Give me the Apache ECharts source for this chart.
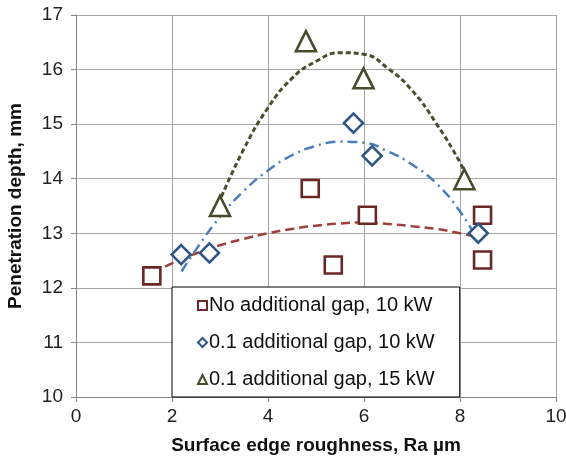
<!DOCTYPE html>
<html>
<head>
<meta charset="utf-8">
<script src="https://cdn.jsdelivr.net/npm/echarts@6/dist/echarts.min.js"></script>
<style>
  html, body { margin: 0; padding: 0; background: #fff; }
  #chart { width: 566px; height: 459px; }
</style>
</head>
<body>
<div id="chart"></div>
<script>
// measured points, [roughness Ra µm, penetration depth mm]
const noGap10 = [[1.58, 12.22], [4.88, 13.82], [6.07, 13.33], [5.36, 12.42], [8.47, 13.33], [8.47, 12.51]];
const gap10 = [[2.19, 12.61], [2.78, 12.64], [5.78, 15.02], [6.17, 14.42], [8.38, 13.0]];
const gap15 = [[3.0, 13.5], [4.79, 16.52], [5.99, 15.84], [8.09, 13.99]];

// trend curves
const trendNoGap10 = [[1.6, 12.27], [2, 12.45], [2.5, 12.63], [3, 12.78], [3.5, 12.9], [4, 13.0], [4.5, 13.08], [5, 13.14], [5.5, 13.18], [6, 13.2], [6.5, 13.17], [7, 13.13], [7.5, 13.08], [8, 13.0], [8.42, 12.91]];
const trendGap10 = [[2.2, 12.3], [2.5, 12.7], [3, 13.3], [3.5, 13.78], [4, 14.15], [4.5, 14.43], [5, 14.6], [5.5, 14.68], [6, 14.66], [6.5, 14.5], [7, 14.26], [7.5, 13.92], [8, 13.4], [8.38, 12.85]];
const trendGap15 = [[3.03, 13.67], [3.5, 14.55], [4, 15.3], [4.5, 15.84], [5, 16.15], [5.5, 16.31], [6, 16.28], [6.5, 16.02], [7, 15.62], [7.5, 15.02], [8, 14.3], [8.1, 14.1]];

const seriesNames = ["No additional gap, 10 kW", "0.1 additional gap, 10 kW", "0.1 additional gap, 15 kW"];

const FONT = "Liberation Sans, Arial, sans-serif";
const chart = echarts.init(document.getElementById("chart"));

function trend(data, color, dash, width) {
  return {
    type: "line",
    data: data,
    smooth: true,
    showSymbol: false,
    silent: true,
    z: 2,
    lineStyle: { color: color, width: width, type: dash },
  };
}

function points(name, data, symbol, size, color) {
  return {
    name: name,
    type: "scatter",
    data: data,
    symbol: symbol,
    symbolSize: size,
    z: 3,
    itemStyle: { color: "#fff", borderColor: color, borderWidth: 2.6, opacity: 1 },
  };
}

chart.setOption({
  animation: false,
  grid: { left: 76, right: 10, top: 15, bottom: 62, outerBoundsMode: "none" },
  xAxis: {
    type: "value",
    min: 0,
    max: 10,
    interval: 2,
    name: "Surface edge roughness, Ra µm",
    nameLocation: "middle",
    nameGap: 39,
    nameTextStyle: { fontFamily: FONT, fontSize: 19, fontWeight: "bold", color: "#111" },
    axisLine: { lineStyle: { color: "#868686" } },
    axisTick: { show: true, length: 5, lineStyle: { color: "#868686" } },
    axisLabel: { fontFamily: FONT, fontSize: 19, color: "#222", margin: 10 },
    splitLine: { lineStyle: { color: "#a6a6a6" } },
  },
  yAxis: {
    type: "value",
    min: 10,
    max: 17,
    interval: 1,
    name: "Penetration depth, mm",
    nameLocation: "middle",
    nameGap: 51,
    nameTextStyle: { fontFamily: FONT, fontSize: 19, fontWeight: "bold", color: "#111" },
    axisLine: { show: true, lineStyle: { color: "#868686" } },
    axisTick: { show: true, length: 5, lineStyle: { color: "#868686" } },
    axisLabel: { fontFamily: FONT, fontSize: 19, color: "#222", margin: 13 },
    splitLine: { lineStyle: { color: "#a6a6a6" } },
  },
  legend: {
    data: seriesNames,
    orient: "vertical",
    left: 172,
    top: 287,
    backgroundColor: "#fff",
    borderColor: "#000",
    borderWidth: 1,
    borderRadius: 0,
    padding: [8, 25, 7, 25],
    itemWidth: 9,
    itemHeight: 9,
    itemGap: 16,
    itemStyle: { borderWidth: 2 },
    textStyle: { fontFamily: FONT, fontSize: 20, lineHeight: 21, color: "#111", padding: [0, 0, 0, -3] },
  },
  series: [
    trend(trendNoGap10, "#a0403d", [9, 5], 2.5),
    trend(trendGap10, "#4a7ebb", [10, 5, 2, 5], 2.5),
    trend(trendGap15, "#4d4d2e", [5, 3], 3),
    points(seriesNames[0], noGap10, "rect", 17, "#6b2626"),
    points(seriesNames[1], gap10, "diamond", 19, "#2e5688"),
    points(seriesNames[2], gap15, "triangle", 20, "#4a4a2c"),
  ],
});
</script>
</body>
</html>
